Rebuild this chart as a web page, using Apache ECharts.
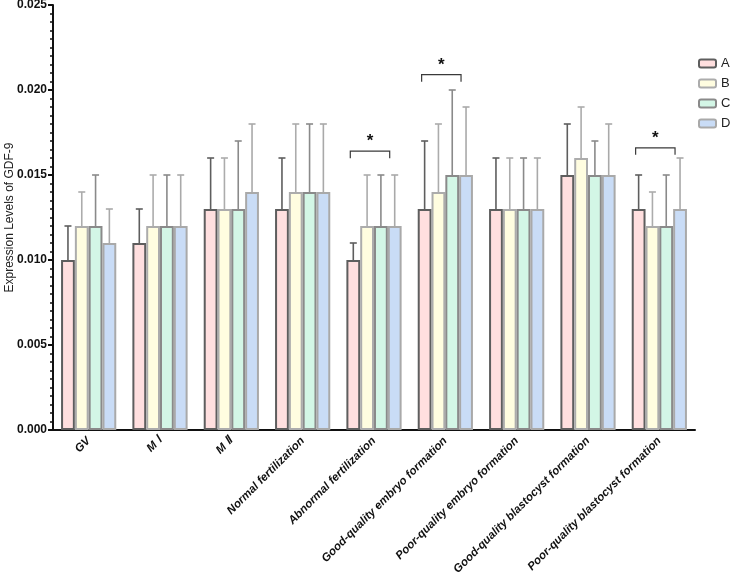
<!DOCTYPE html>
<html>
<head>
<meta charset="utf-8">
<script src="https://cdn.jsdelivr.net/npm/echarts@6/dist/echarts.min.js"></script>
<style>
  html, body { margin: 0; padding: 0; background: #fff; }
  #chart { width: 733px; height: 577px; }
</style>
</head>
<body>
<div id="chart"></div>
<script>
// categories on the x axis
const categories = ['GV', 'M Ⅰ', 'M Ⅱ', 'Normal fertilization', 'Abnormal fertilization',
  'Good-quality embryo formation', 'Poor-quality embryo formation',
  'Good-quality blastocyst formation', 'Poor-quality blastocyst formation'];

// bar heights (mean)
const meanA = [0.010, 0.011, 0.013, 0.013, 0.010, 0.013, 0.013, 0.015, 0.013];
const meanB = [0.012, 0.012, 0.013, 0.014, 0.012, 0.014, 0.013, 0.016, 0.012];
const meanC = [0.012, 0.012, 0.013, 0.014, 0.012, 0.015, 0.013, 0.015, 0.012];
const meanD = [0.011, 0.012, 0.014, 0.014, 0.012, 0.015, 0.013, 0.015, 0.013];

// top of error bar
const topA = [0.012, 0.013, 0.016, 0.016, 0.011, 0.017, 0.016, 0.018, 0.015];
const topB = [0.014, 0.015, 0.016, 0.018, 0.015, 0.018, 0.016, 0.019, 0.014];
const topC = [0.015, 0.015, 0.017, 0.018, 0.015, 0.020, 0.016, 0.017, 0.015];
const topD = [0.013, 0.015, 0.018, 0.018, 0.015, 0.019, 0.016, 0.018, 0.016];

// significance brackets: [category index, bracket height]
const brackets = [[4, 0.0164], [5, 0.0209], [8, 0.0166]];

const yTicks = [0, 0.005, 0.010, 0.015, 0.020, 0.025];

const seriesNames = ['A', 'B', 'C', 'D'];
const fills = ['#ffdfdf', '#fffde0', '#d3f6e6', '#c9dcf6'];
const borders = ['#5e5e5e', '#acacac', '#8a8a8a', '#a9a9a9'];
const means = [meanA, meanB, meanC, meanD];
const tops = [topA, topB, topC, topD];

const catGap = 0.226;
const font = '"Liberation Sans", Arial, sans-serif';

function barCenter(api, cat, idx) {
  const c = api.coord([cat, 0]);
  const bw = api.size([1, 0])[0] * (1 - catGap) / 4;
  return c[0] + (idx - 1.5) * bw;
}

const series = [];
seriesNames.forEach(function (name, i) {
  series.push({
    name: name,
    type: 'bar',
    data: means[i],
    barGap: '0%',
    barCategoryGap: (catGap * 100) + '%',
    itemStyle: { color: fills[i], borderColor: borders[i], borderWidth: 2 },
    z: 2
  });
});
seriesNames.forEach(function (name, i) {
  series.push({
    type: 'custom',
    silent: true,
    z: 1,
    data: means[i].map(function (m, k) { return [k, m, tops[i][k]]; }),
    encode: { x: 0, y: [1, 2] },
    renderItem: function (params, api) {
      const cat = api.value(0);
      const x = barCenter(api, cat, i);
      const y0 = api.coord([cat, api.value(1)])[1];
      const y1 = api.coord([cat, api.value(2)])[1];
      const st = { stroke: borders[i], lineWidth: 1.6 };
      return {
        type: 'group',
        children: [
          { type: 'line', shape: { x1: x, y1: y0, x2: x, y2: y1 }, style: st },
          { type: 'line', shape: { x1: x - 3.5, y1: y1, x2: x + 3.5, y2: y1 }, style: st }
        ]
      };
    }
  });
});
series.push({
  type: 'custom',
  silent: true,
  data: brackets,
  renderItem: function (params, api) {
    const cat = api.value(0);
    const xa = barCenter(api, cat, 0) - 3;
    const xd = barCenter(api, cat, 3) - 5;
    const y = api.coord([cat, api.value(1)])[1];
    const st = { stroke: '#3a3a3a', lineWidth: 1.2, fill: null };
    return {
      type: 'group',
      children: [
        { type: 'polyline', shape: { points: [[xa, y + 7], [xa, y], [xd, y], [xd, y + 7]] }, style: st },
        { type: 'text', style: { text: '*', x: (xa + xd) / 2, y: y - 1, align: 'center', verticalAlign: 'bottom',
          font: 'bold 17px ' + font, fill: '#111' } }
      ]
    };
  }
});

const chart = echarts.init(document.getElementById('chart'));
chart.setOption({
  animation: false,
  grid: { left: 53, right: 38, top: 5, bottom: 147, outerBoundsMode: 'none', containLabel: false },
  legend: {
    data: seriesNames,
    orient: 'vertical',
    left: 693,
    top: 52,
    itemWidth: 17,
    itemHeight: 8,
    itemGap: 7,
    textStyle: { fontSize: 13, color: '#222', fontFamily: font }
  },
  xAxis: {
    type: 'category',
    data: categories,
    axisLine: { lineStyle: { color: '#111', width: 2 } },
    axisTick: { alignWithLabel: true, length: 6, lineStyle: { color: '#111', width: 2 } },
    axisLabel: {
      rotate: 45,
      interval: 0,
      margin: 9,
      fontSize: 11.5,
      fontWeight: 'bold',
      fontStyle: 'italic',
      color: '#111',
      fontFamily: font
    }
  },
  yAxis: {
    type: 'value',
    min: yTicks[0],
    max: yTicks[yTicks.length - 1],
    interval: yTicks[1] - yTicks[0],
    name: 'Expression Levels of GDF-9',
    nameLocation: 'middle',
    nameGap: 37,
    nameMoveOverlap: false,
    nameTextStyle: { fontSize: 12, color: '#222', fontFamily: font },
    splitLine: { show: false },
    axisLine: { show: true, lineStyle: { color: '#111', width: 2 } },
    axisTick: { show: true, length: 5, lineStyle: { color: '#111', width: 2 } },
    minorTick: { show: true, splitNumber: 10, length: 3, lineStyle: { color: '#111', width: 1.5 } },
    axisLabel: {
      fontSize: 12,
      fontWeight: 'bold',
      color: '#111',
      margin: 6,
      fontFamily: font,
      formatter: function (v) { return v.toFixed(3); }
    }
  },
  series: series
});
</script>
</body>
</html>
